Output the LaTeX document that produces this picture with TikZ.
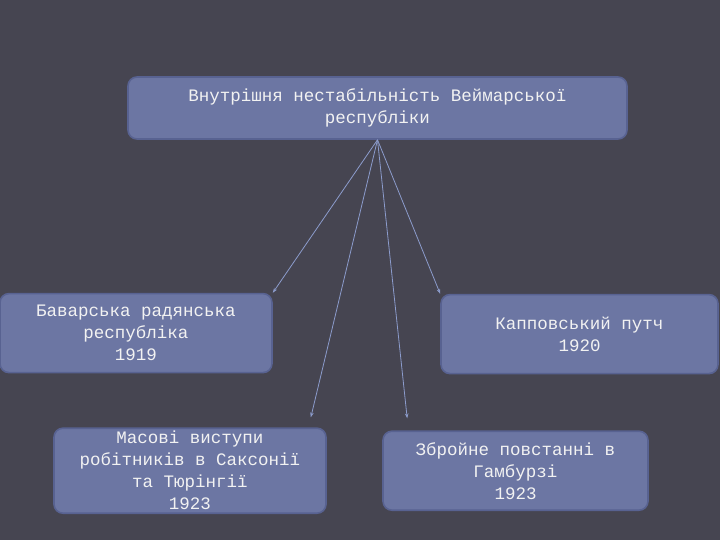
\documentclass[tikz,border=0pt]{standalone}
\usepackage{fontspec}
\usepackage{tikz}
\usetikzlibrary{arrows.meta, positioning}
\newfontfamily\boxfont{Liberation Mono}
\definecolor{slide}{RGB}{70,69,81}
\definecolor{boxfill}{RGB}{108,118,163}
\definecolor{boxline}{RGB}{88,98,145}
\definecolor{linkblue}{RGB}{140,156,204}
\tikzstyle{event} = [rectangle, rounded corners=9pt, draw=boxline, line width=1.6pt, fill=boxfill, text=white!95!black, align=center, inner sep=0pt]
\tikzstyle{arrow} = [draw=linkblue, line width=0.8pt, -{Stealth[length=5pt,width=3.5pt]}]

\begin{document}
\begin{tikzpicture}[
        x=1pt, y=-1pt,
        every node/.style={
            font=\boxfont\fontsize{17.5}{22}\selectfont
        }
    ]
        % Slide background
        \fill[slide] (0,0) rectangle (720,540);
        \useasboundingbox (0,0) rectangle (720,540);

        % Top node
        \node[event, minimum width=499pt, minimum height=62pt] (crisis) at (377.5,108) {Внутрішня нестабільність Веймарської\\республіки};

        % Second row
        \node[event, minimum width=272pt, minimum height=79pt, below=153pt of crisis, xshift=-241.5pt] (bavaria) {Баварська радянська\\республіка\\1919};
        \node[event, minimum width=277pt, minimum height=79pt, below=154pt of crisis, xshift=202pt] (kapp) {Капповський путч\\1920};

        % Third row
        \node[event, minimum width=272pt, minimum height=85pt, below=54pt of bavaria, xshift=54pt] (saxony) {Масові виступи\\робітників в Саксонії\\та Тюрінгії\\1923};
        \node[event, minimum width=265pt, minimum height=79pt, below=56pt of kapp, xshift=-64pt] (hamburg) {Збройне повстанні в\\Гамбурзі\\1923};

        % Arrows
        \draw[arrow] (crisis.south) -- (bavaria.north east);
        \draw[arrow] (crisis.south) -- ([xshift=-16pt, yshift=10pt]saxony.north east);
        \draw[arrow] (crisis.south) -- ([xshift=25pt, yshift=12pt]hamburg.north west);
        \draw[arrow] (crisis.south) -- (kapp.north west);
    \end{tikzpicture}
\end{document}
